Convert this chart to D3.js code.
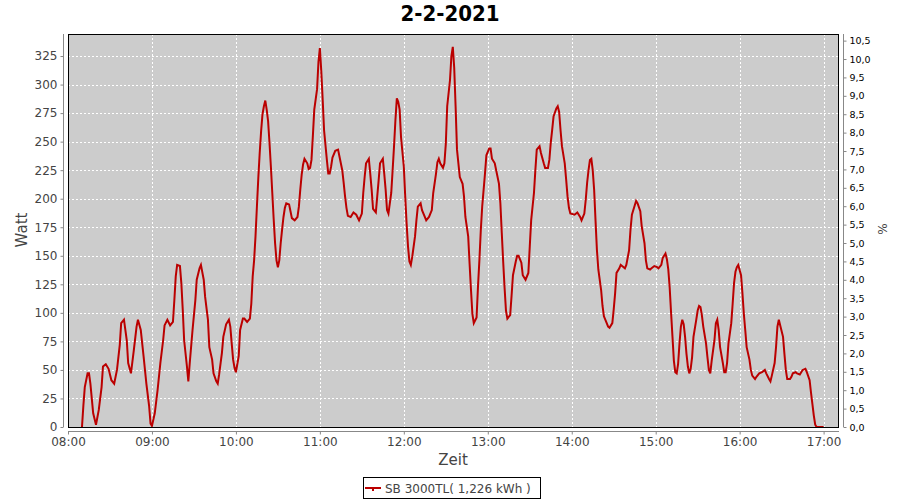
<!DOCTYPE html>
<html>
<head>
<meta charset="utf-8">
<script src="https://cdn.jsdelivr.net/npm/d3@7"></script>
<style>
  html, body { margin: 0; padding: 0; background: #ffffff; }
  svg { display: block; }
</style>
</head>
<body>
<div id="chart"></div>
<script>
// ---- data ----
const chartTitle = "2-2-2021";
const seriesName = "SB 3000TL( 1,226 kWh )";
const times = [
"08:10","08:11","08:12","08:14","08:15","08:16","08:18","08:20","08:22","08:24","08:25","08:27","08:29","08:31","08:33","08:35","08:37","08:38","08:40","08:42","08:43","08:45","08:47","08:49","08:50","08:52","08:54","08:56","08:58","08:59",
"09:00","09:02","09:04","09:06","09:08","09:09","09:11","09:13","09:15","09:16","09:17","09:18","09:20","09:21","09:22","09:23","09:25","09:26","09:27","09:29","09:31","09:32","09:34","09:35","09:37","09:38","09:40","09:41","09:43","09:44","09:46","09:47","09:48","09:50","09:51","09:53","09:55","09:56","09:57","09:58","09:59",
"10:00","10:02","10:03","10:05","10:06","10:08","10:10","10:11","10:12","10:13","10:14","10:15","10:16","10:17","10:18","10:19","10:20","10:21","10:22","10:23","10:24","10:25","10:26","10:27","10:28","10:29","10:30","10:31","10:32","10:33","10:34","10:35","10:36","10:38","10:39","10:40","10:42","10:44","10:45","10:46","10:47","10:48","10:49","10:51","10:52","10:53","10:54","10:55","10:56","10:58","10:59",
"11:00","11:01","11:02","11:03","11:05","11:06","11:07","11:08","11:09","11:11","11:13","11:14","11:16","11:17","11:18","11:19","11:20","11:22","11:24","11:26","11:28","11:30","11:31","11:32","11:33","11:35","11:36","11:37","11:38","11:40","11:41","11:42","11:43","11:45","11:46","11:47","11:48","11:49","11:51","11:52","11:53","11:54","11:55","11:56","11:57","11:58",
"12:00","12:01","12:02","12:03","12:04","12:05","12:06","12:08","12:09","12:10","12:12","12:13","12:15","12:16","12:18","12:20","12:21","12:23","12:24","12:25","12:26","12:28","12:29","12:30","12:31","12:33","12:34","12:35","12:36","12:37","12:38","12:40","12:42","12:43","12:44","12:46","12:47","12:48","12:49","12:50","12:52","12:53","12:54","12:55","12:56","12:58","12:59",
"13:01","13:02","13:03","13:05","13:06","13:08","13:09","13:10","13:11","13:12","13:13","13:14","13:16","13:17","13:18","13:20","13:21","13:22","13:24","13:25","13:27","13:29","13:30","13:31","13:33","13:34","13:35","13:37","13:38","13:40","13:41","13:43","13:44","13:45","13:46","13:47","13:49","13:50","13:51","13:52","13:53","13:55","13:56","13:57","13:58","13:59",
"14:02","14:04","14:06","14:07","14:09","14:10","14:11","14:12","14:13","14:14","14:15","14:16","14:17","14:18","14:19","14:21","14:22","14:23","14:25","14:26","14:27","14:29","14:30","14:31","14:32","14:34","14:35","14:36","14:38","14:39","14:41","14:42","14:43","14:45","14:46","14:47","14:49","14:50","14:52","14:53","14:54","14:56","14:57","14:59",
"15:01","15:02","15:04","15:05","15:07","15:08","15:09","15:10","15:11","15:12","15:13","15:14","15:15","15:16","15:17","15:18","15:19","15:20","15:21","15:22","15:23","15:24","15:25","15:26","15:27","15:29","15:30","15:31","15:32","15:33","15:34","15:36","15:37","15:38","15:39","15:40","15:42","15:43","15:44","15:45","15:46","15:48","15:49","15:50","15:51","15:52","15:54","15:55","15:56","15:57","15:58","15:59",
"16:01","16:02","16:03","16:04","16:05","16:07","16:08","16:09","16:11","16:12","16:14","16:16","16:18","16:19","16:21","16:22","16:23","16:25","16:26","16:27","16:28","16:29","16:31","16:32","16:33","16:34","16:36","16:37","16:38","16:40","16:41","16:43","16:44","16:45","16:47","16:48","16:50","16:51","16:52","16:53","16:54","16:55",
"17:00"
];
const watts = [
0,19,35,47,47,38,12,2,15,35,53,55,51,41,38,50,72,91,94,76,56,47,67,88,94,85,62,38,18,3,
1,12,32,56,76,89,94,89,92,111,132,142,141,126,103,76,53,40,56,85,111,129,139,142,129,114,94,70,59,47,40,38,46,65,79,90,94,88,73,59,52,
48,62,85,95,95,92,95,108,132,146,167,193,218,240,259,274,281,286,278,268,249,228,205,182,161,146,140,146,161,173,184,192,196,195,189,183,181,184,193,208,221,230,235,231,226,227,234,255,278,296,320,
332,312,287,260,234,222,222,228,236,242,243,237,225,214,202,192,185,184,188,186,181,187,205,219,231,235,222,208,191,188,202,216,231,235,222,208,190,187,205,225,246,269,288,285,278,254,
228,202,178,158,145,142,149,167,181,193,196,190,184,181,184,190,205,222,232,235,231,227,231,248,281,304,325,333,315,281,243,219,213,202,184,167,143,120,99,91,96,123,146,172,193,222,238,
244,244,235,231,225,213,196,170,145,122,102,95,98,115,133,145,150,150,144,133,129,135,158,181,205,225,243,246,240,231,227,227,234,249,260,272,279,281,276,260,246,231,217,202,192,187,
186,188,184,181,187,199,214,225,234,235,225,208,181,155,138,120,106,97,91,88,87,91,103,117,135,139,142,141,139,142,155,173,186,194,198,196,189,176,161,146,139,138,139,141,
140,139,142,148,152,147,138,122,100,79,58,48,47,55,73,88,94,90,79,64,53,47,51,61,79,94,102,106,105,98,88,73,61,50,47,58,76,91,94,85,70,56,48,48,56,73,91,108,126,136,140,142,
133,117,99,85,70,59,50,45,42,44,47,48,50,47,42,40,45,56,70,88,94,89,79,64,50,42,42,44,47,48,47,46,48,50,51,48,41,30,20,10,2,0,
0
];
const xTickLabels = ["08:00","09:00","10:00","11:00","12:00","13:00","14:00","15:00","16:00","17:00"];
const yTicks = [0,25,50,75,100,125,150,175,200,225,250,275,300,325];
const pctTicks = [0,0.5,1,1.5,2,2.5,3,3.5,4,4.5,5,5.5,6,6.5,7,7.5,8,8.5,9,9.5,10,10.5];

// ---- layout ----
const W = 900, H = 500;
const plot = { left: 68, right: 839, top: 34, bottom: 427 };
const lineColor = "#bb0000";
const textGray = "#444444";
const axisGray = "#888888";
const font = "'DejaVu Sans', Verdana, sans-serif";

const parse = d3.timeParse("%Y-%m-%d %H:%M");
const day = "2021-02-02 ";
const data = times.map((t, i) => ({ t: parse(day + t), v: watts[i] }));

const svg = d3.select("#chart").append("svg")
  .attr("width", W).attr("height", H)
  .style("font-family", font);

svg.append("rect").attr("width", W).attr("height", H).attr("fill", "#ffffff");

const x = d3.scaleTime()
  .domain([parse(day + "08:00"), parse(day + "17:11")])
  .range([plot.left, plot.right]);
const y = d3.scaleLinear().domain([0, 344.3]).range([plot.bottom, plot.top]);
const yR = d3.scaleLinear().domain([0, 10.68]).range([plot.bottom, plot.top]);

// plot background
svg.append("rect")
  .attr("x", plot.left).attr("y", plot.top)
  .attr("width", plot.right - plot.left).attr("height", plot.bottom - plot.top)
  .attr("fill", "#cccccc");

// gridlines
const xTickDates = xTickLabels.map(s => parse(day + s));
const grid = svg.append("g").attr("stroke", "#ffffff").attr("stroke-width", 1)
  .attr("stroke-dasharray", "2,2").attr("shape-rendering", "crispEdges");
grid.selectAll("line.h").data(yTicks.filter(d => d > 0)).join("line")
  .attr("x1", plot.left).attr("x2", plot.right)
  .attr("y1", d => Math.round(y(d)) + 0.5).attr("y2", d => Math.round(y(d)) + 0.5);
grid.selectAll("line.v").data(xTickDates.filter((d, i) => i > 0)).join("line")
  .attr("y1", plot.top).attr("y2", plot.bottom)
  .attr("x1", d => Math.round(x(d)) + 0.5).attr("x2", d => Math.round(x(d)) + 0.5);

// series line
const clip = svg.append("clipPath").attr("id", "clip").append("rect")
  .attr("x", plot.left).attr("y", plot.top)
  .attr("width", plot.right - plot.left).attr("height", plot.bottom - plot.top);
const line = d3.line().x(d => x(d.t)).y(d => y(d.v));
svg.append("path").datum(data)
  .attr("clip-path", "url(#clip)")
  .attr("d", line)
  .attr("fill", "none")
  .attr("stroke", lineColor)
  .attr("stroke-width", 2)
  .attr("stroke-linejoin", "miter");

// plot outline
svg.append("rect")
  .attr("x", plot.left + 0.5).attr("y", plot.top + 0.5)
  .attr("width", plot.right - plot.left - 1).attr("height", plot.bottom - plot.top)
  .attr("fill", "none").attr("stroke", "#000000").attr("stroke-width", 1);

// axes
function styleAxis(g, color, size) {
  g.select(".domain").attr("stroke", axisGray);
  g.selectAll(".tick line").attr("stroke", axisGray);
  g.selectAll(".tick text").attr("fill", color).style("font-size", size).style("font-family", font);
}
const leftAxis = d3.axisLeft(y).tickValues(yTicks).tickSize(3).tickSizeOuter(0).tickPadding(3);
const gL = svg.append("g").attr("transform", "translate(63.5,0)").call(leftAxis);
gL.select(".domain").attr("d", `M0,${plot.top}V${plot.bottom}`);
styleAxis(gL, textGray, "12px");

const bottomAxis = d3.axisBottom(x).tickValues(xTickDates).tickFormat((d, i) => xTickLabels[i])
  .tickSize(3).tickSizeOuter(0).tickPadding(3);
const gB = svg.append("g").attr("transform", "translate(0,431.5)").call(bottomAxis);
gB.select(".domain").attr("d", `M${plot.left},0H${plot.right}`);
styleAxis(gB, textGray, "12px");

const rightAxis = d3.axisRight(yR).tickValues(pctTicks)
  .tickFormat(d => d3.format(".1f")(d).replace(".", ","))
  .tickSize(3).tickSizeOuter(0).tickPadding(3);
const gR = svg.append("g").attr("transform", "translate(843.5,0)").call(rightAxis);
gR.select(".domain").attr("d", `M0,${plot.top}V${plot.bottom}`);
styleAxis(gR, "#000000", "9.5px");

// title
svg.append("text").attr("x", 450).attr("y", 21).attr("text-anchor", "middle")
  .style("font-family", "'DejaVu Sans Condensed', 'DejaVu Sans', sans-serif")
  .style("font-stretch", "condensed")
  .style("font-weight", "bold").style("font-size", "22px").attr("fill", "#000000")
  .text(chartTitle);

// axis labels
svg.append("text").attr("transform", "translate(27,230) rotate(-90)").attr("text-anchor", "middle")
  .style("font-size", "15px").attr("fill", textGray).text("Watt");
svg.append("text").attr("x", 453).attr("y", 465).attr("text-anchor", "middle")
  .style("font-size", "15px").attr("fill", textGray).text("Zeit");
svg.append("text").attr("transform", "translate(887,229) rotate(-90)").attr("text-anchor", "middle")
  .style("font-size", "12px").attr("fill", textGray).text("%");

// legend
const lg = svg.append("g");
lg.append("rect").attr("x", 363.5).attr("y", 477.5).attr("width", 177).attr("height", 21)
  .attr("fill", "#ffffff").attr("stroke", "#000000").attr("stroke-width", 1);
lg.append("line").attr("x1", 365).attr("x2", 381).attr("y1", 488).attr("y2", 488)
  .attr("stroke", lineColor).attr("stroke-width", 2);
lg.append("rect").attr("x", 372).attr("y", 489).attr("width", 2).attr("height", 2).attr("fill", lineColor);
lg.append("text").attr("x", 385).attr("y", 492.5)
  .style("font-size", "12px").attr("fill", textGray).text(seriesName);
</script>
</body>
</html>
